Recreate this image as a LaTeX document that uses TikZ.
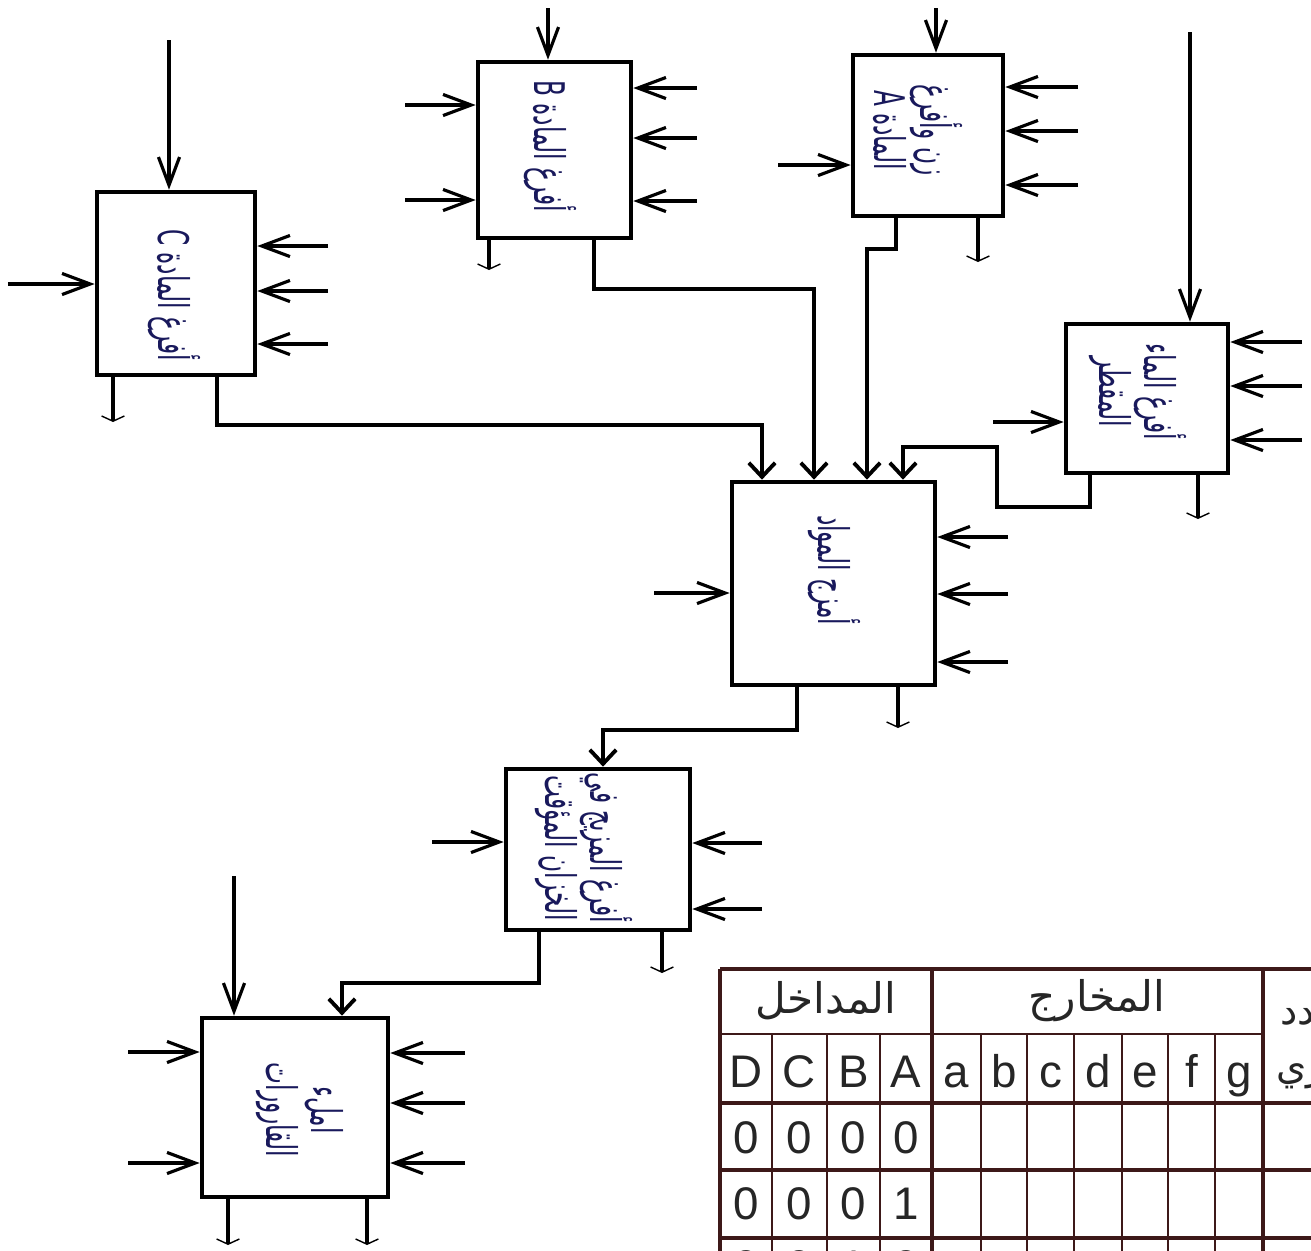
\documentclass[tikz,border=0pt]{standalone}
\usepackage{fontspec}
\setmainfont{Liberation Sans}
\newfontfamily\arabicfont[Script=Arabic]{DejaVu Sans}
\TeXXeTstate=1
\usetikzlibrary{arrows.meta,calc}
\definecolor{MyInk}{rgb}{0.10,0.10,0.36}
\definecolor{MyGrid}{rgb}{0.24,0.10,0.10}
\definecolor{MyGlyph}{rgb}{0.15,0.15,0.15}
\newcommand{\arline}[1]{\scalebox{0.55}[1]{\arabicfont\beginR #1\endR}}

\begin{document}
\begin{tikzpicture}[x=0.01cm,y=-0.01cm,
		block/.style 2 args={draw, line width=1.3pt, inner sep=0pt,
			minimum width=#1, minimum height=#2},
		caption/.style={rotate=-90, align=center, text=MyInk,
			font=\fontsize{12}{13}\selectfont, inner sep=0pt},
		feed/.style={-{Straight Barb[length=8pt,width=6pt]}, line width=0.9pt},
		link/.style={-{Straight Barb[length=4pt,width=7.5pt]}, line width=1.1pt},
		drain/.style={line width=1.1pt,
			-{Straight Barb[length=1.5pt,width=6.5pt,line width=0.4pt]}},
		grid/.style={draw=MyGrid, line width=0.6pt},
		cell/.style={text=MyGlyph, font=\fontsize{13}{15}\selectfont,
			inner sep=0pt, anchor=base}]
	\useasboundingbox (0,0) rectangle (1311,1250);
	\fill[white] (0,0) rectangle (1311,1250);

	\node[block={1.58cm}{1.83cm}] (matC) at (176,283.5) {};
	\node[block={1.53cm}{1.76cm}] (matB) at (554.5,150) {};
	\node[block={1.50cm}{1.61cm}] (matA) at (928,135.5) {};
	\node[block={1.62cm}{1.49cm}] (water) at (1147,398.5) {};
	\node[block={2.03cm}{2.03cm}] (mixer) at (833.5,583.5) {};
	\node[block={1.84cm}{1.61cm}] (tank) at (598,849.5) {};
	\node[block={1.86cm}{1.79cm}] (bottles) at (295,1107.5) {};

	\node[caption] (capC) at (174,295) {\arline{أفرغ المادة C}};
	\node[caption] (capB) at (550,146) {\arline{أفرغ المادة B}};
	\node[caption] (capA) at (918,130) {\arline{زن وأفرغ}\\\arline{المادة A}};
	\node[caption] (capW) at (1138,392) {\arline{أفرغ الماء}\\\arline{المقطر}};
	\node[caption] (capM) at (834,570) {\arline{أمزج المواد}};
	\node[caption] (capT) at (584,848) {\arline{أفرغ المزيج في}\\\arline{الخزان المؤقت}};
	\node[caption] (capF) at (300,1110) {\arline{املء}\\\arline{القارورات}};

	\draw[feed] (169,40) -- (169,40 |- matC.north);
	\draw[feed] (8,284) -- (8,284 -| matC.west);
	\foreach \yy in {246,291,344}
		\draw[feed] (328,\yy) -- (328,\yy -| matC.east);
	\draw[drain] (113,0 |- matC.south) -- (113,422);
	\draw[link] (217,0 |- matC.south) -- (217,425) -- (762,425) -- (762,0 |- mixer.north);

	\draw[feed] (548,8) -- (548,8 |- matB.north);
	\foreach \yy in {105,200}
		\draw[feed] (405,\yy) -- (405,\yy -| matB.west);
	\foreach \yy in {88,138,201}
		\draw[feed] (697,\yy) -- (697,\yy -| matB.east);
	\draw[drain] (489,0 |- matB.south) -- (489,270);
	\draw[link] (594,0 |- matB.south) -- (594,289) -- (814,289) -- (814,0 |- mixer.north);

	\draw[feed] (936,8) -- (936,8 |- matA.north);
	\draw[feed] (778,165) -- (778,165 -| matA.west);
	\foreach \yy in {87,131,185}
		\draw[feed] (1078,\yy) -- (1078,\yy -| matA.east);
	\draw[drain] (978,0 |- matA.south) -- (978,262);
	\draw[link] (896,0 |- matA.south) -- (896,249) -- (867,249) -- (867,0 |- mixer.north);

	\draw[feed] (1190,32) -- (1190,32 |- water.north);
	\draw[feed] (993,422) -- (993,422 -| water.west);
	\foreach \yy in {342,386,440}
		\draw[feed] (1302,\yy) -- (1302,\yy -| water.east);
	\draw[drain] (1198,0 |- water.south) -- (1198,519);
	\draw[link] (1090,0 |- water.south) -- (1090,507) -- (997,507) -- (997,447)
		-- (903,447) -- (903,0 |- mixer.north);

	\draw[feed] (654,593) -- (654,593 -| mixer.west);
	\foreach \yy in {537,594,662}
		\draw[feed] (1008,\yy) -- (1008,\yy -| mixer.east);
	\draw[drain] (898,0 |- mixer.south) -- (898,728);
	\draw[link] (797,0 |- mixer.south) -- (797,730) -- (603,730) -- (603,0 |- tank.north);

	\draw[feed] (432,842) -- (432,842 -| tank.west);
	\foreach \yy in {843,909}
		\draw[feed] (762,\yy) -- (762,\yy -| tank.east);
	\draw[drain] (662,0 |- tank.south) -- (662,973);
	\draw[link] (539,0 |- tank.south) -- (539,983) -- (342,983) -- (342,0 |- bottles.north);

	\draw[feed] (234,876) -- (234,876 |- bottles.north);
	\foreach \yy in {1052,1163}
		\draw[feed] (128,\yy) -- (128,\yy -| bottles.west);
	\foreach \yy in {1053,1103,1163}
		\draw[feed] (465,\yy) -- (465,\yy -| bottles.east);
	\foreach \xx in {228,367}
		\draw[drain] (\xx,0 |- bottles.south) -- (\xx,1245);

	\begin{scope}
		\clip (0,0) rectangle (1311,1250);
		\draw[grid, line width=1pt] (720,969) -- (1320,969);
		\draw[grid, line width=0.9pt] (720,969) -- (720,1260);
		\foreach \xx in {932,1263}
			\draw[grid, line width=0.9pt] (\xx,969) -- (\xx,1260);
		\draw[grid] (720,1034) -- (1263,1034);
		\foreach \xx in {772,827,880}
			\draw[grid, line width=0.8pt] (\xx,1034) -- (\xx,1260);
		\foreach \xx in {981,1027,1074,1122,1168,1215}
			\draw[grid] (\xx,1034) -- (\xx,1260);
		\foreach \yy in {1103,1170,1238}
			\draw[grid, line width=1.2pt] (720,\yy) -- (1320,\yy);
		\node[cell, anchor=center, font=\arabicfont\fontsize{12}{14}\selectfont] (headIn) at (826,1001) {\beginR المداخل\endR};
		\node[cell, anchor=center, font=\arabicfont\fontsize{12}{14}\selectfont] (headOut) at (1097,1001) {\beginR المخارج\endR};
		\node[cell, anchor=west, font=\arabicfont\fontsize{11}{13}\selectfont] (headNum) at (1280,1010) {\beginR العدد\endR};
		\node[cell, anchor=west, font=\arabicfont\fontsize{11}{13}\selectfont] (headDec) at (1276,1070) {\beginR العشري\endR};
		\foreach \xx/\ch [count=\i] in {746/D,799.5/C,853.5/B,906/A,956.5/a,1004/b,1050.5/c,1098/d,1145/e,1191.5/f,1239/g}
			\node[cell] (sym\i) at (\xx,1087) {\ch};
		\foreach \xx/\ch [count=\i] in {746/0,799.5/0,853.5/0,906/0}
			\node[cell] (rowA\i) at (\xx,1153) {\ch};
		\foreach \xx/\ch [count=\i] in {746/0,799.5/0,853.5/0,906/1}
			\node[cell] (rowB\i) at (\xx,1219) {\ch};
		\foreach \xx/\ch [count=\i] in {746/0,799.5/0,853.5/1,906/0}
			\node[cell] (rowC\i) at (\xx,1282) {\ch};
	\end{scope}
\end{tikzpicture}
\end{document}
